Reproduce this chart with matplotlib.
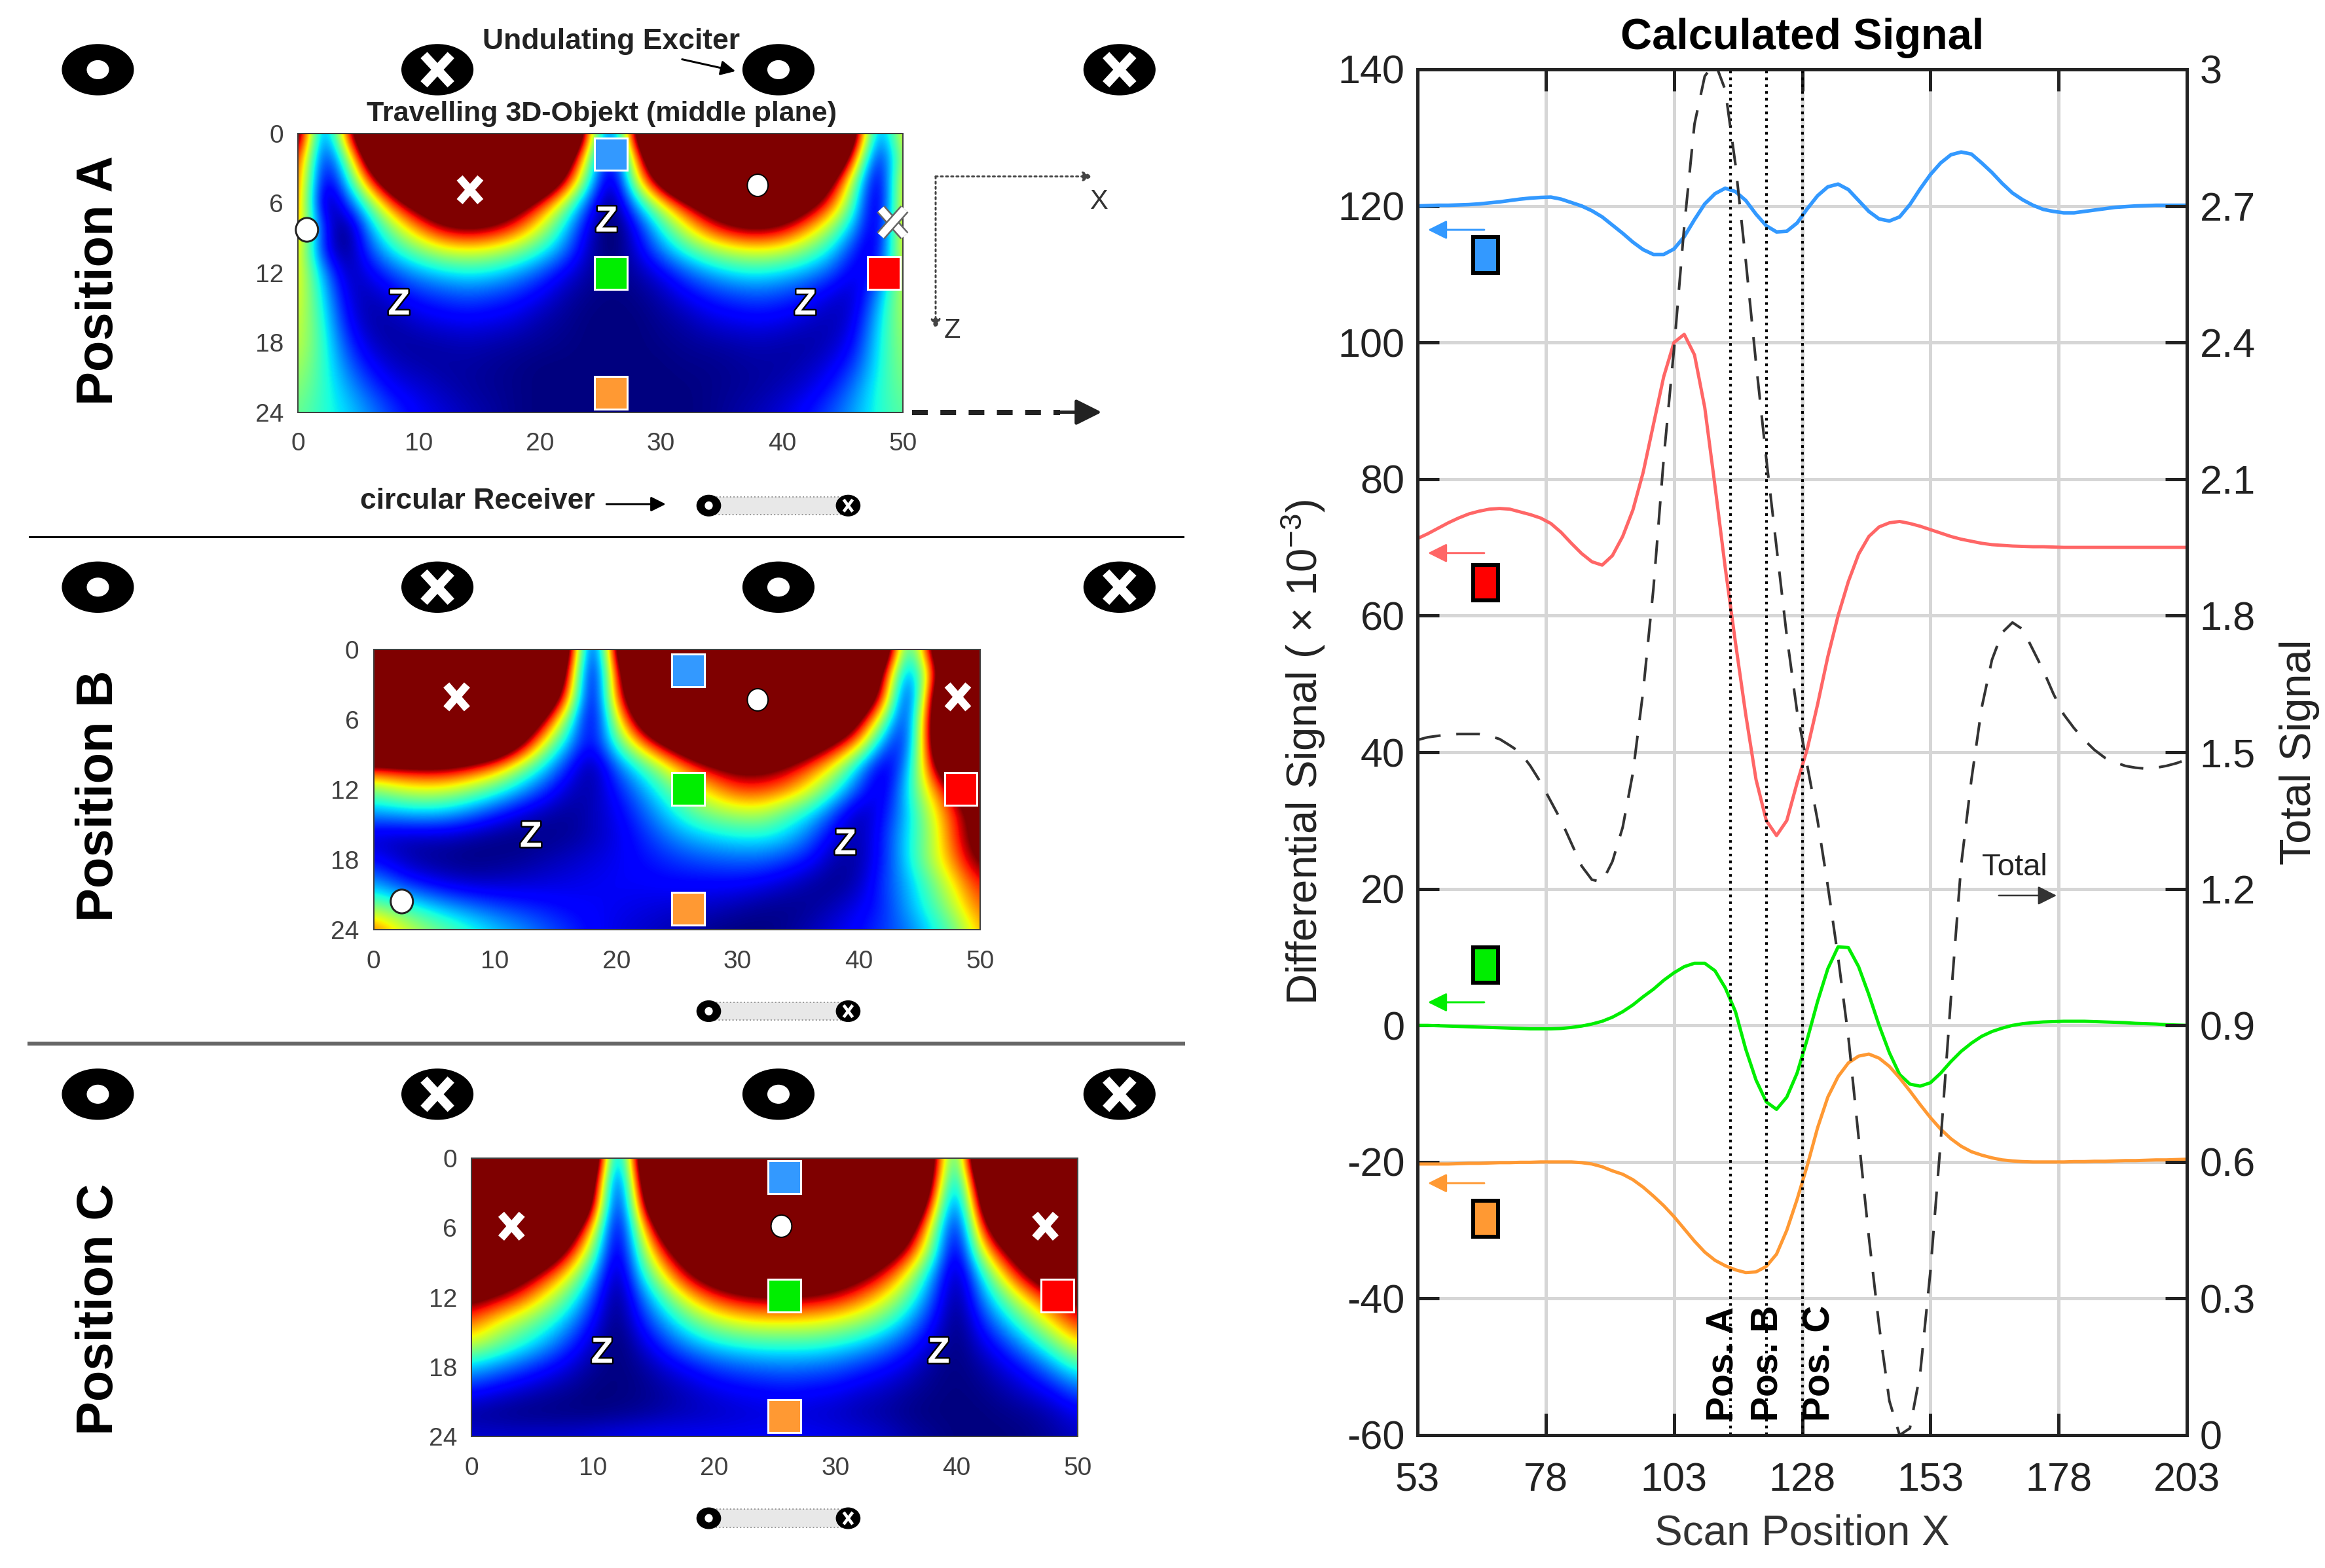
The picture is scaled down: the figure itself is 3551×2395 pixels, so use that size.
import numpy as np
import matplotlib
matplotlib.use('Agg')
import matplotlib.pyplot as plt
from matplotlib.patches import Ellipse, Rectangle, FancyBboxPatch
import matplotlib.patheffects as pe

W, H = 3551, 2395
S = W / 1568  # overlay positions were measured on a 1568 wide copy

plt.rcParams['font.family'] = ['Liberation Sans', 'DejaVu Sans']
plt.rcParams['mathtext.fontset'] = 'custom'
plt.rcParams['mathtext.rm'] = 'Liberation Sans'
plt.rcParams['mathtext.it'] = 'Liberation Sans'
plt.rcParams['axes.unicode_minus'] = False

# line plot data, all curves sampled at the same scan positions
scan_x = list(range(53, 204, 2))
blue_sig = [120, 120.05, 120.1, 120.1, 120.15, 120.2, 120.3, 120.45, 120.6, 120.8,
            121, 121.15, 121.25, 121.3, 121, 120.5, 120, 119.3, 118.4, 117.2,
            116, 114.7, 113.6, 112.9, 112.9, 113.7, 115.5, 118, 120.3, 121.8,
            122.6, 122.1, 120.8, 118.8, 117.1, 116.2, 116.3, 117.5, 119.6, 121.5,
            122.8, 123.2, 122.4, 120.8, 119.2, 118.1, 117.8, 118.4, 120.2, 122.5,
            124.6, 126.3, 127.5, 127.9, 127.6, 126.3, 124.9, 123.3, 121.9, 120.9,
            120.1, 119.5, 119.2, 119, 119, 119.2, 119.4, 119.6, 119.8, 119.9,
            120, 120.05, 120.1, 120.1, 120.1, 120.1]
red_sig = [71.3, 72, 72.8, 73.6, 74.3, 74.9, 75.3, 75.6, 75.7, 75.6,
           75.2, 74.8, 74.3, 73.5, 72.2, 70.6, 69.1, 67.9, 67.4, 68.8,
           71.6, 75.5, 81, 88, 95, 100, 101.2, 98.2, 90.5, 79,
           67, 56, 45.5, 36, 30, 27.8, 30, 35.5, 40.5, 47,
           54, 60, 65, 69, 71.6, 73, 73.6, 73.8, 73.5, 73.1,
           72.6, 72.1, 71.6, 71.2, 70.9, 70.6, 70.4, 70.3, 70.2, 70.15,
           70.1, 70.1, 70.05, 70, 70, 70, 70, 70, 70, 70,
           70, 70, 70, 70, 70, 70]
green_sig = [0, 0, -0.05, -0.1, -0.15, -0.2, -0.25, -0.3, -0.35, -0.4,
             -0.45, -0.5, -0.5, -0.5, -0.45, -0.3, -0.1, 0.2, 0.6, 1.2,
             2, 3, 4.2, 5.3, 6.6, 7.7, 8.6, 9.1, 9.1, 8,
             5.5, 2, -3.5, -8, -11.2, -12.3, -10.5, -7, -2, 3.5,
             8.3, 11.5, 11.4, 8.6, 4.5, 0, -4, -7.2, -8.6, -8.9,
             -8.4, -7, -5.3, -3.8, -2.6, -1.6, -0.9, -0.4, 0, 0.25,
             0.4, 0.5, 0.55, 0.6, 0.6, 0.6, 0.55, 0.5, 0.45, 0.4,
             0.3, 0.25, 0.2, 0.1, 0.05, 0]
orange_sig = [-20.3, -20.3, -20.3, -20.3, -20.25, -20.2, -20.2, -20.15, -20.1, -20.1,
              -20.05, -20.05, -20, -20, -20, -20, -20.1, -20.3, -20.7, -21.3,
              -21.8, -22.6, -23.7, -25, -26.4, -28, -29.8, -31.6, -33.2, -34.4,
              -35.2, -35.8, -36.2, -36.1, -35.3, -33.5, -30, -25.5, -20.5, -15,
              -10.5, -7.5, -5.5, -4.5, -4.2, -4.8, -6, -7.7, -9.6, -11.6,
              -13.5, -15.2, -16.6, -17.7, -18.5, -19, -19.4, -19.7, -19.85, -19.95,
              -20, -20, -20, -20, -19.95, -19.95, -19.9, -19.9, -19.85, -19.8,
              -19.8, -19.75, -19.7, -19.7, -19.65, -19.6]
total_sig = [1.527, 1.533, 1.536, 1.539, 1.54, 1.54, 1.54, 1.536, 1.529, 1.515,
             1.5, 1.47, 1.434, 1.392, 1.35, 1.30, 1.25, 1.22, 1.215, 1.26,
             1.335, 1.455, 1.635, 1.86, 2.145, 2.385, 2.655, 2.88, 2.985, 3.015,
             2.955, 2.79, 2.58, 2.355, 2.145, 1.95, 1.755, 1.59, 1.47, 1.35,
             1.206, 1.05, 0.875, 0.654, 0.435, 0.24, 0.075, 0, 0.015, 0.135,
             0.36, 0.645, 0.96, 1.253, 1.44, 1.598, 1.703, 1.763, 1.785, 1.77,
             1.725, 1.68, 1.628, 1.583, 1.553, 1.527, 1.505, 1.488, 1.478, 1.47,
             1.466, 1.464, 1.466, 1.47, 1.476, 1.484]
pos_x = [114, 121, 128]
pos_names = ['Pos. A', 'Pos. B', 'Pos. C']
x_ticks = [53, 78, 103, 128, 153, 178, 203]
left_ticks = [-60, -40, -20, 0, 20, 40, 60, 80, 100, 120, 140]
right_labels = ['0', '0.3', '0.6', '0.9', '1.2', '1.5', '1.8', '2.1', '2.4', '2.7', '3']

# field maps, percent of colour scale, x = 0,2..50 across, z = 0,2..24 down
# values run past 0..100 where the colour saturates, that keeps the bands narrow after smoothing
field_a = [
    [125, 5, 80, 160] + [200] * 8 + [75, 5, 110] + [200] * 8 + [115, 10, 70],
    [95, 5, 45, 125, 190] + [200] * 6 + [135, 50, 0, 75, 160] + [200] * 6 + [165, 80, 0, 60],
    [88, 0, 30, 85, 135, 180, 200, 200, 200, 190, 150, 100, 40, -5, 60, 115, 165, 200, 200, 200, 200, 160, 110, 50, -5, 70],
    [85, -5, 15, 48, 85, 115, 140, 150, 140, 118, 88, 55, 18, -5, 30, 62, 92, 120, 140, 150, 140, 115, 85, 40, -5, 70],
    [78, 15, -5, 30, 55, 78, 98, 105, 100, 85, 62, 35, 8, -5, 12, 38, 62, 85, 100, 105, 98, 78, 55, 28, 0, 72],
    [72, 12, -2, 20, 38, 50, 60, 63, 60, 52, 40, 25, 5, -3, 8, 25, 40, 52, 60, 63, 60, 50, 36, 14, 5, 68],
    [68, 30, 3, 10, 20, 28, 33, 36, 34, 28, 20, 10, 3, 1, 3, 10, 20, 28, 34, 36, 33, 28, 20, 8, 15, 64],
    [65, 36, 8, 4, 10, 15, 18, 20, 18, 15, 10, 4, 1, 0, 1, 4, 10, 15, 18, 20, 18, 14, 8, 5, 27, 60],
    [62, 40, 12, 3, 4, 8, 10, 11, 10, 8, 4, 2, 0, 0, 0, 2, 4, 8, 10, 11, 10, 7, 4, 8, 33, 57],
    [60, 42, 18, 6, 3, 3, 4, 5, 4, 3, 2, 1, 0, 0, 0, 1, 2, 3, 4, 5, 4, 3, 5, 12, 36, 54],
    [56, 42, 24, 12, 6, 4, 3, 3, 2, 1, 0, 0, 0, 0, 0, 0, 1, 1, 2, 3, 3, 5, 9, 18, 37, 52],
    [52, 41, 30, 19, 11, 8, 5, 3, 2, 1, 0, 0, 0, 0, 0, 0, 0, 1, 2, 3, 5, 8, 14, 25, 39, 49],
    [48, 40, 34, 26, 17, 11, 8, 5, 3, 1, 0, 0, 0, 0, 0, 0, 0, 1, 3, 5, 8, 13, 20, 29, 39, 46],
]
field_b = [
    [200] * 8 + [115, -10, 105] + [200] * 10 + [140, 20, 105, 200, 200],
    [200] * 7 + [190, 90, -10, 85, 170] + [200] * 8 + [180, 95, 10, 75, 170, 200],
    [200] * 7 + [150, 78, -8, 80, 145, 190] + [200] * 6 + [190, 150, 85, -5, 95, 200, 200],
    [200] * 6 + [155, 100, 45, 0, 58, 115, 170] + [200] * 5 + [190, 155, 105, 50, 2, 110, 190, 200],
    [200, 200, 200, 190, 170, 150, 110, 62, 30, 8, 42, 75, 105, 135, 160, 170, 165, 150, 125, 100, 72, 22, 10, 105, 200, 200],
    [92, 97, 100, 100, 92, 78, 55, 35, 15, 0, 22, 40, 60, 82, 98, 108, 108, 98, 82, 62, 30, 5, 25, 92, 150, 200],
    [50, 58, 62, 60, 52, 42, 30, 18, 6, 3, 14, 27, 42, 58, 72, 85, 85, 78, 62, 40, 18, 5, 35, 72, 105, 150],
    [28, 30, 32, 30, 24, 16, 9, 4, 2, 5, 10, 20, 32, 44, 52, 56, 57, 45, 35, 18, 3, 12, 32, 60, 90, 115],
    [6, 5, 5, 5, 3, 1, 0, 1, 2, 5, 9, 15, 23, 30, 34, 37, 37, 33, 22, 8, 3, 15, 35, 55, 88, 115],
    [12, 6, 2, 1, 0, 1, 2, 4, 6, 8, 10, 13, 16, 19, 21, 22, 22, 18, 13, 3, 3, 15, 35, 57, 80, 108],
    [28, 18, 12, 8, 6, 6, 7, 8, 9, 10, 11, 11, 12, 12, 12, 12, 10, 7, 3, 1, 5, 18, 30, 47, 68, 90],
    [50, 43, 35, 28, 23, 19, 16, 14, 12, 11, 10, 9, 8, 7, 6, 4, 2, 1, 2, 5, 10, 16, 29, 42, 60, 82],
    [82, 66, 55, 47, 40, 33, 28, 22, 17, 12, 9, 7, 5, 3, 1, 0, 0, 2, 5, 9, 13, 18, 24, 35, 48, 72],
]
field_c = [
    [200] * 5 + [150, -5, 125] + [200] * 11 + [110, 15, 170] + [200] * 4,
    [200] * 5 + [118, -10, 105] + [200] * 11 + [95, 10, 130] + [200] * 4,
    [200] * 4 + [190, 100, -8, 85, 175] + [200] * 9 + [165, 75, 5, 105, 190, 200, 200, 200],
    [200] * 3 + [200, 130, 68, -5, 62, 125, 180] + [200] * 7 + [180, 120, 55, 0, 82, 140, 190, 200, 200],
    [200, 195, 180, 138, 95, 50, -3, 48, 93, 130, 160, 175, 185, 190, 180, 170, 150, 125, 92, 45, -2, 60, 100, 140, 180, 200],
    [155, 135, 115, 90, 65, 32, -3, 35, 68, 100, 122, 135, 142, 140, 135, 125, 110, 90, 62, 28, -2, 35, 72, 105, 135, 155],
    [108, 98, 84, 64, 45, 20, -3, 22, 45, 68, 85, 95, 100, 100, 98, 92, 80, 65, 45, 20, -2, 24, 48, 72, 92, 108],
    [82, 66, 55, 44, 30, 12, -2, 14, 30, 45, 57, 64, 67, 67, 66, 62, 55, 45, 30, 13, -2, 15, 32, 50, 70, 90],
    [60, 50, 40, 30, 18, 6, -2, 7, 18, 28, 35, 39, 41, 41, 41, 38, 33, 26, 17, 7, -1, 8, 18, 32, 48, 66],
    [32, 26, 20, 14, 8, 2, 0, 2, 8, 13, 18, 21, 23, 24, 23, 21, 17, 13, 8, 2, 0, 3, 9, 16, 28, 42],
    [14, 10, 7, 4, 2, 0, 0, 1, 3, 6, 9, 11, 12, 13, 12, 11, 8, 6, 3, 1, 0, 1, 4, 8, 13, 22],
    [2, 1, 0, 0, 0, 0, 1, 2, 4, 5, 6, 7, 8, 8, 7, 6, 4, 3, 1, 0, 0, 0, 1, 2, 5, 10],
    [8, 8, 8, 8, 8, 9, 10, 11, 11, 11, 11, 11, 11, 11, 11, 10, 9, 7, 4, 2, 0, 0, 0, 1, 3, 6],
]
field_x_ticks = [0, 10, 20, 30, 40, 50]
field_z_ticks = [0, 6, 12, 18, 24]

BLUE, RED, GREEN, ORANGE = '#3399ff', '#ff6666', '#00ee00', '#ff9933'
SQ_BLUE, SQ_RED, SQ_GREEN, SQ_ORANGE = '#3399ff', '#ff0000', '#00ee00', '#ff9933'


def pt(px):
    return px * 0.72


def box(l, t, r, b):
    return [l / W, 1 - b / H, (r - l) / W, (b - t) / H]


fig = plt.figure(figsize=(W / 100, H / 100), dpi=100)

# the three field maps
for field, rect in zip([field_a, field_b, field_c],
                       [(201, 90, 609, 278), (252, 438, 661, 627), (318, 781, 727, 969)]):
    l, t, r, b = [v * S for v in rect]
    hm = fig.add_axes(box(l, t, r, b))
    hm.imshow(np.array(field), cmap='jet', vmin=0, vmax=100, aspect='auto', extent=(-1, 51, 25, -1),
              interpolation='bicubic', interpolation_stage='data')
    hm.set_xlim(0, 50)
    hm.set_ylim(24, 0)
    hm.set_xticks(field_x_ticks)
    hm.set_yticks(field_z_ticks)
    hm.tick_params(length=0, labelsize=28, labelcolor='#404040')
    hm.tick_params(axis='x', pad=22)
    hm.tick_params(axis='y', pad=16)
    for sp in hm.spines.values():
        sp.set_linewidth(pt(2))
        sp.set_color('#404040')

# line chart
ax = fig.add_axes(box(2165, 106, 3340, 2192))
ax.plot(scan_x, blue_sig, color=BLUE, lw=pt(5.5))
ax.plot(scan_x, red_sig, color=RED, lw=pt(5))
ax.plot(scan_x, green_sig, color=GREEN, lw=pt(5))
ax.plot(scan_x, orange_sig, color=ORANGE, lw=pt(5))
for xv in pos_x:
    ax.axvline(xv, color='k', lw=pt(4), ls=(0, (1, 1.6)))
ax.set_xlim(53, 203)
ax.set_ylim(-60, 140)
ax.set_xticks(x_ticks)
ax.set_yticks(left_ticks)
ax.grid(True, color='#d6d6d6', lw=pt(5))
ax.set_axisbelow(True)
ax.tick_params(direction='in', length=24, width=pt(5), labelsize=44, color='#222222', labelcolor='#222222', top=True)
ax.tick_params(axis='y', pad=14)
ax.tick_params(axis='x', pad=30)
ax.set_xlabel('Scan Position X', fontsize=46, color='#333333', labelpad=16)
ax.set_ylabel(r'Differential Signal ( $\times$ 10$^{-3}$)', fontsize=47, color='#222222', labelpad=12)
ax.set_title('Calculated Signal', fontsize=48, fontweight='bold', pad=22)
for sp in ax.spines.values():
    sp.set_linewidth(pt(5))
    sp.set_color('#222222')

ax2 = ax.twinx()
ax2.plot(scan_x, total_sig, color='#333333', lw=pt(4), ls=(0, (9, 6)))
ax2.set_ylim(0, 3)
ax2.set_yticks(np.arange(11) * 0.3)
ax2.set_yticklabels(right_labels)
ax2.tick_params(direction='in', length=24, width=pt(5), labelsize=44, pad=14, color='#222222', labelcolor='#222222')
ax2.set_ylabel('Total Signal', fontsize=48, color='#222222', labelpad=26)
for sp in ax2.spines.values():
    sp.set_linewidth(pt(5))
    sp.set_color('#222222')

for xv, name in zip([112.6, 121.2, 131.4], pos_names):
    ax.text(xv, -58, name, rotation=90, fontsize=41, fontweight='bold', ha='center', va='bottom')
ax.text(163, 21, 'Total', fontsize=34, color='#222222', va='bottom', ha='left', zorder=6)

# everything drawn on top in picture coordinates
ov = fig.add_axes([0, 0, 1, 1], zorder=5)
ov.set_xlim(0, W)
ov.set_ylim(H, 0)
ov.axis('off')
ov.patch.set_alpha(0)


def cross(x, y, dx, dy, lw, color='white', outline=False):
    for sgn in (1, -1):
        line, = ov.plot([(x - dx) * S, (x + dx) * S], [(y - sgn * dy) * S, (y + sgn * dy) * S],
                        color=color, lw=pt(lw), solid_capstyle='butt')
        if outline:
            line.set_path_effects([pe.withStroke(linewidth=pt(lw + 5), foreground='#666666')])


def coil(x, y, w, h, mark):
    ov.add_patch(Ellipse((x * S, y * S), w * S, h * S, color='k', zorder=3))
    if mark == 'o':
        ov.add_patch(Ellipse((x * S, y * S), w * 0.3 * S, h * 0.36 * S, color='white', zorder=4))
    else:
        line_w = 14 * w / 48
        for sgn in (1, -1):
            ov.plot([(x - w * 0.19) * S, (x + w * 0.19) * S], [(y - sgn * h * 0.29) * S, (y + sgn * h * 0.29) * S],
                    color='white', lw=pt(line_w), zorder=4, solid_capstyle='butt')


def dot(x, y, w=13, h=14, edge='k', lw=3):
    ov.add_patch(Ellipse((x * S, y * S), w * S, h * S, fc='white', ec=edge, lw=pt(lw), zorder=4))


def zed(x, y):
    ov.text(x * S, y * S, 'Z', color='white', fontsize=40, fontweight='bold', ha='center', va='center', zorder=4,
            path_effects=[pe.withStroke(linewidth=pt(5), foreground='k')])


def arrow(x0, y0, x1, y1, color='k', lw=3, scale=34, ls='-'):
    ov.annotate('', xy=(x1 * S, y1 * S), xytext=(x0 * S, y0 * S),
                arrowprops=dict(arrowstyle='-|>', color=color, lw=pt(lw), mutation_scale=scale, shrinkA=0, shrinkB=0, ls=ls))


def square(x, y, color, edge='white', w=22, h=22, lw=3):
    ov.add_patch(Rectangle(((x - w / 2) * S, (y - h / 2) * S), w * S, h * S, fc=color, ec=edge, lw=pt(lw), zorder=4))


for y in (47, 396, 738):
    for x, mark in zip((66, 295, 525, 755), 'oxox'):
        coil(x, y, 48, 34, mark)

for y, name in zip((189, 537, 883), ('Position A', 'Position B', 'Position C')):
    ov.text(67 * S, y * S, name, rotation=90, fontsize=56, fontweight='bold', ha='center', va='center')

ov.plot([20 * S, 798 * S], [362 * S, 362 * S], color='k', lw=pt(3))
ov.plot([20 * S, 798 * S], [704 * S, 704 * S], color='#666666', lw=pt(6))

# field map marks
for x0, y0 in ((412, 104), (464, 452), (529, 794)):
    square(x0, y0, SQ_BLUE)
    square(x0, y0 + 80, SQ_GREEN)
    square(x0, y0 + 161, SQ_ORANGE)
    square(x0 + 184, y0 + 80, SQ_RED)
for x, y in ((317, 128), (308, 470), (646, 470), (345, 827), (705, 827)):
    cross(x, y, 7, 8, 12)
cross(602, 150, 8, 9, 11, outline=True)
for x, y in ((511, 125), (511, 472), (527, 827)):
    dot(x, y, 14, 15, lw=2)
dot(207, 155, 15, 16, edge='#222222')
dot(271, 608, 15, 16, edge='#222222')
for x, y in ((409, 150), (269, 206), (543, 206), (358, 565), (570, 570), (406, 913), (633, 913)):
    zed(x, y)

# labels and arrows around panel A
ov.text(412 * S, 28 * S, 'Undulating Exciter', fontsize=32, fontweight='bold', color='#222222', ha='center', va='center')
ov.text(406 * S, 77 * S, 'Travelling 3D-Objekt (middle plane)', fontsize=31, fontweight='bold', color='#222222', ha='center', va='center')
ov.text(322 * S, 338 * S, 'circular Receiver', fontsize=32, fontweight='bold', color='#222222', ha='center', va='center')
arrow(460, 40, 496, 48, lw=3)
arrow(409, 340, 449, 340, lw=3)
arrow(631, 119, 737, 119, color='#444444', lw=3, scale=22, ls=':')
arrow(631, 119, 631, 222, color='#444444', lw=3, scale=22, ls=':')
ov.text(741 * S, 136 * S, 'X', fontsize=30, color='#333333', ha='center', va='center')
ov.text(642 * S, 223 * S, 'Z', fontsize=30, color='#333333', ha='center', va='center')
ov.plot([615 * S, 715 * S], [278 * S, 278 * S], color='#222222', lw=pt(8), ls=(0, (3, 2.4)))
arrow(712, 278, 743, 278, color='#222222', lw=5, scale=60)

# receivers
for y in (341, 682, 1024):
    ov.add_patch(FancyBboxPatch((478 * S, (y - 6) * S), 94 * S, 12 * S, boxstyle='square,pad=0',
                                fc='#e8e8e8', ec='#999999', lw=pt(2), ls=':', zorder=2))
    coil(478, y, 16, 14, 'o')
    coil(572, y, 16, 14, 'x')

# keys beside the curves
key_y = (172, 393, 651, 822)
arrow_y = (155, 373, 676, 798)
for y, ay, sq, c in zip(key_y, arrow_y, (SQ_BLUE, SQ_RED, SQ_GREEN, SQ_ORANGE), (BLUE, RED, GREEN, ORANGE)):
    square(1002, y, sq, edge='k', w=17, h=24, lw=6)
    arrow(1001, ay, 963, ay, color=c, lw=3, scale=44)
arrow(1348, 604, 1387, 604, color='#333333', lw=2.5, scale=44)

fig.savefig('out.png', dpi=100)
